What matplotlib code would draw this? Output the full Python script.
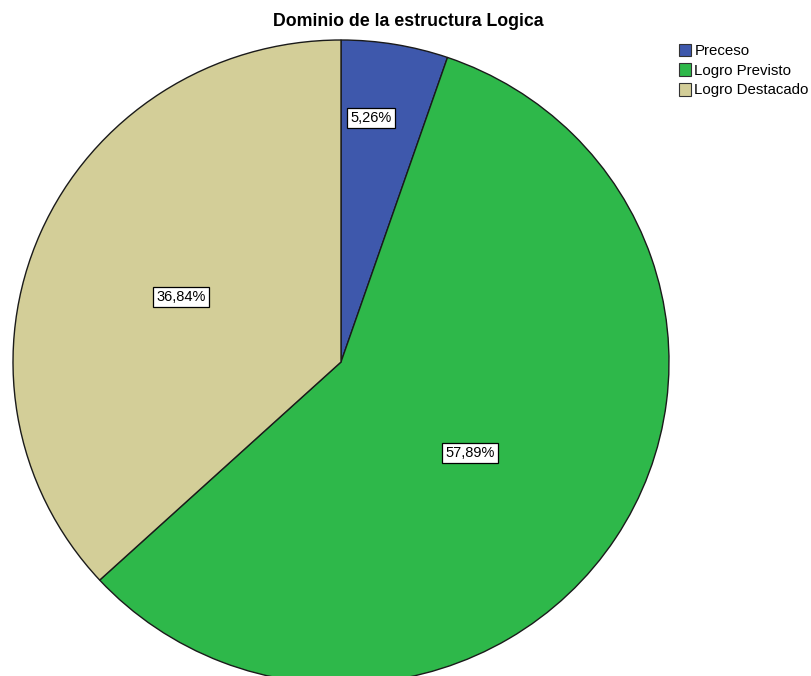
import matplotlib.pyplot as plt
from matplotlib.patches import Patch

plt.rcParams['font.family'] = ['Liberation Sans', 'DejaVu Sans']

categories = ['Preceso', 'Logro Previsto', 'Logro Destacado']
counts = [1, 11, 7]
pct_labels = ['5,26%', '57,89%', '36,84%']
colors = ['#3e58ac', '#2eb84a', '#d3ce98']

fig = plt.figure(figsize=(8.11, 6.76), dpi=100)
ax = fig.add_axes([0, 0, 1, 1])

ax.pie(counts, colors=colors, startangle=90, counterclock=False,
       radius=1, center=(0, 0),
       wedgeprops=dict(edgecolor='#1a1a1a', linewidth=1.0))

# pie drawn slightly wider than tall, like the original
cx, cy, rx, ry = 341, 362, 328, 322
ax.set_aspect('auto')
ax.set_xlim(-cx / rx, (811 - cx) / rx)
ax.set_ylim(-(676 - cy) / ry, cy / ry)
ax.axis('off')

# label positions (pixels) converted to data units
label_px = [(371, 118), (470, 453), (181, 297)]
for (px, py), lab in zip(label_px, pct_labels):
    ax.text((px - cx) / rx, (cy - py) / ry, lab, ha='center', va='center',
            fontsize=10.5,
            bbox=dict(facecolor='white', edgecolor='black', linewidth=0.9,
                      boxstyle='square,pad=0.2'))

fig.text(408 / 811, 1 - 21 / 676, 'Dominio de la estructura Logica',
         ha='center', va='center', fontsize=12.8, fontweight='bold')

handles = [Patch(facecolor=c, edgecolor='#333333', linewidth=0.8) for c in colors]
fig.legend(handles, categories, loc='upper left',
           bbox_to_anchor=(668 / 811, 1 - 33 / 676), frameon=False,
           fontsize=10.8, handlelength=0.85, handleheight=0.95,
           handletextpad=0.2, labelspacing=0.33, borderpad=0.2)

fig.savefig('out.png', dpi=100)
